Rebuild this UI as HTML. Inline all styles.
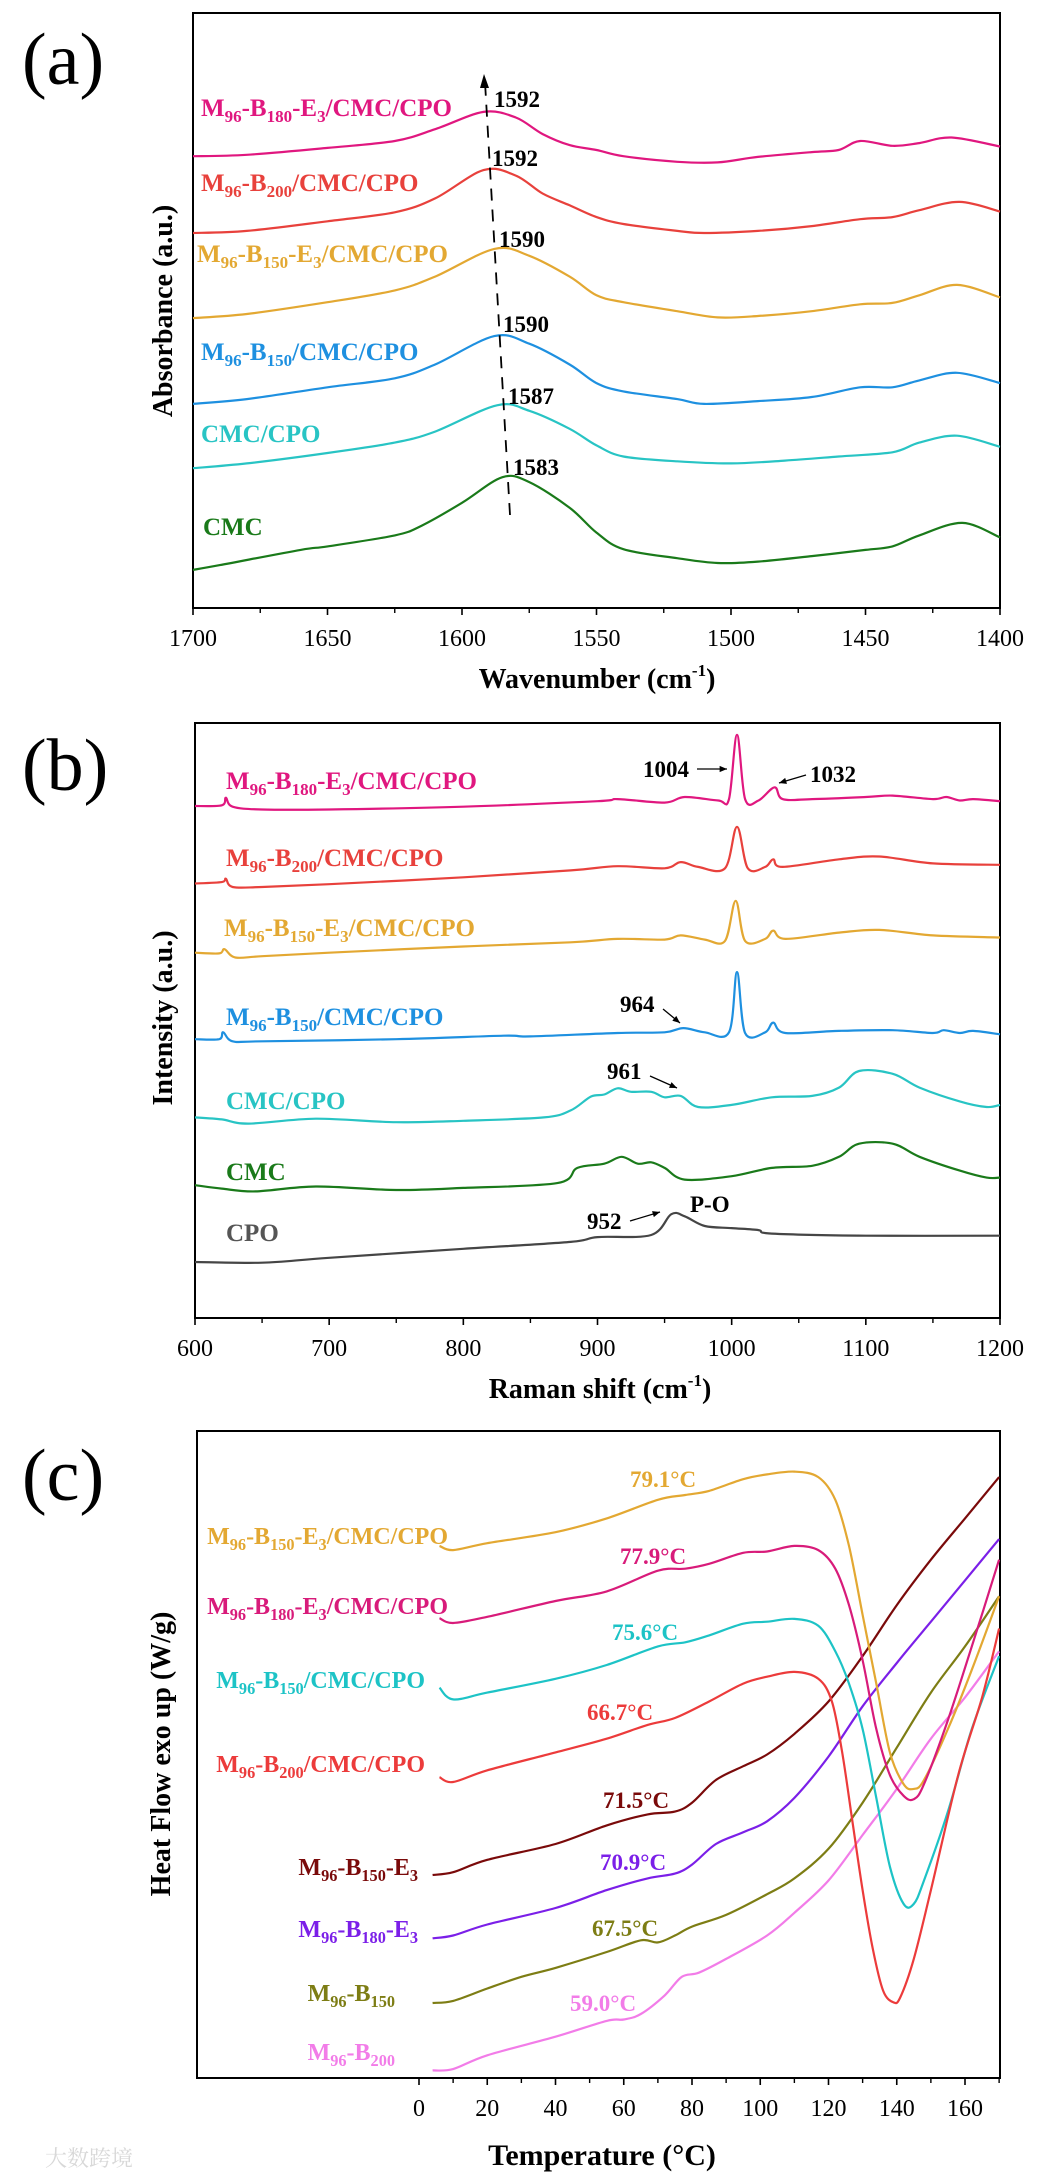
<!DOCTYPE html>
<html><head><meta charset="utf-8">
<style>
html,body{margin:0;padding:0;background:#fff;}
svg{display:block;}
text{font-family:"Liberation Serif","Noto Serif CJK SC",serif;}
</style></head>
<body>
<svg id="fig" width="1043" height="2174" viewBox="0 0 1043 2174" xmlns="http://www.w3.org/2000/svg">
<rect width="1043" height="2174" fill="#fff"/>
</svg>
<script>
// ---------- Panel (a) FTIR data ----------
const aWave = {
  mag:[1700,1680,1650,1625,1610,1592,1580,1570,1560,1550,1540,1520,1505,1490,1470,1460,1452,1440,1430,1418,1400],
  red:[1700,1680,1650,1625,1610,1592,1580,1570,1560,1550,1540,1520,1510,1490,1470,1452,1440,1430,1415,1400],
  yel:[1700,1680,1650,1625,1610,1588,1575,1560,1550,1540,1520,1505,1490,1470,1452,1440,1430,1416,1400],
  blu:[1700,1680,1650,1625,1610,1588,1575,1560,1550,1540,1520,1510,1490,1470,1452,1440,1430,1416,1400],
  cya:[1700,1680,1650,1625,1610,1587,1575,1560,1550,1540,1520,1500,1480,1460,1440,1430,1416,1400],
  grn:[1700,1690,1660,1650,1625,1615,1600,1585,1575,1560,1550,1540,1520,1505,1490,1470,1450,1440,1430,1414,1400]
};
const aAbsMag=[653,655,665,675,692,717,709,685,669,662,653,645,644,652,659,662,675,668,672,680,667];
const aAbsRed=[542,545,559,572,592,633,625,599,582,565,555,545,542,545,552,562,565,575,587,573];
const aAbsYel=[419,425,442,459,479,519,509,479,452,442,429,420,422,429,439,441,452,467,449];
const aAbsBlu=[295,302,319,332,352,393,382,352,325,313,302,295,299,305,319,319,329,340,325];
const aAbsCya=[202,209,224,239,255,293,285,259,235,219,212,209,213,219,225,239,249,233];
const aAbsGrn=[55,62,84,89,105,119,152,189,182,145,109,85,72,65,67,75,84,89,105,123,102];
const aTicks=[1700,1650,1600,1550,1500,1450,1400];
const aPeaks=["1592","1592","1590","1590","1587","1583"];

// ---------- Panel (b) Raman data ----------
const bShift = {
  mag:[600,620,623,628,650,700,800,900,915,950,965,990,998,1004,1010,1020,1032,1038,1060,1100,1120,1150,1160,1170,1180,1200],
  red:[600,620,623,628,650,700,800,880,915,950,962,975,995,1004,1012,1025,1031,1038,1080,1110,1150,1200],
  yel:[600,618,622,630,650,700,800,880,915,950,962,980,995,1003,1010,1025,1031,1040,1080,1110,1150,1200],
  blu:[600,618,621,628,650,750,830,850,915,950,964,980,998,1004,1010,1025,1031,1040,1080,1120,1150,1158,1170,1180,1200],
  cya:[600,620,640,690,750,800,860,880,895,905,915,925,940,950,962,975,1000,1030,1060,1080,1095,1120,1140,1170,1190,1200],
  grn:[600,620,645,690,750,800,870,885,905,918,930,940,950,965,1000,1030,1060,1080,1095,1120,1140,1170,1190,1200],
  gry:[600,650,700,800,880,900,940,955,965,980,1000,1020,1030,1100,1200]
};
const bIntMag=[740,741,752,739,735,735,739,747,750,745,753,748,750,843,750,748,767,750,750,753,755,750,753,748,750,747];
const bIntRed=[628,630,635,623,623,627,637,647,653,650,659,652,650,710,650,652,663,652,663,667,657,655];
const bIntYel=[528,527,533,521,523,528,537,543,548,547,553,547,545,603,545,548,560,548,557,561,553,550];
const bIntBlu=[403,403,413,400,400,403,408,407,412,413,419,413,413,500,412,413,427,412,415,416,412,416,412,415,410];
const bIntCya=[290,287,281,288,283,285,290,300,320,323,332,327,327,319,321,305,308,319,321,333,357,353,333,313,305,308];
const bIntGrn=[192,187,183,190,185,188,195,217,223,233,223,225,217,200,205,217,220,233,252,252,233,213,203,203];
const bIntGry=[81,80,87,100,110,117,120,150,147,133,130,127,122,119,119];
const bTicks=[600,700,800,900,1000,1100,1200];

// ---------- Panel (c) DSC data ----------
const cTemp = {
  yel:[6,10,20,40,55,70,78,85,95,102,110,117,122,126,130,134,138,142,145,148,155,162,170],
  mag:[6,10,20,40,55,70,78,85,95,102,110,117,122,126,130,134,138,142,145,148,155,162,170],
  cya:[6,10,20,40,55,70,78,85,95,102,110,117,122,126,130,134,138,142,145,148,155,162,170],
  red:[6,10,20,40,55,67,75,85,95,102,110,117,121,124,127,130,133,136,139,141,145,150,158,165,170],
  drk:[4,10,20,40,55,67,75,80,87,95,102,110,120,130,140,150,160,170],
  pur:[4,10,20,40,55,67,75,80,87,95,102,110,120,130,140,150,160,170],
  olv:[4,10,20,30,40,55,65,70,75,80,90,102,110,120,130,140,150,160,170],
  pnk:[4,10,20,40,55,60,65,72,77,82,90,102,110,120,130,140,150,160,170]
};
const cHeatYel=[773,767,777,793,813,840,847,853,870,877,881,873,840,773,673,573,473,427,420,433,507,593,700];
const cHeatMag=[668,661,670,693,707,737,740,747,763,765,773,767,740,687,607,507,440,410,405,427,520,627,753];
const cHeatCya=[567,550,560,580,600,627,633,643,660,663,667,657,620,573,507,407,307,253,253,287,387,507,613];
const cHeatRed=[437,430,447,473,493,513,523,547,573,583,590,580,547,473,373,273,187,127,110,117,173,273,440,553,653];
const cHeatDrk=[295,299,317,340,367,383,387,400,433,453,470,500,547,613,687,753,813,873];
const cHeatPur=[203,207,223,247,273,290,297,310,340,357,373,407,467,540,603,663,723,783];
const cHeatOlv=[109,112,130,147,160,183,200,197,207,220,237,267,290,333,400,480,560,627,700];
const cHeatPnk=[11,13,33,60,83,85,93,120,147,153,173,207,240,287,353,420,493,553,620];
const cTicks=[0,20,40,60,80,100,120,140,160];
const cTg=["79.1°C","77.9°C","75.6°C","66.7°C","71.5°C","70.9°C","67.5°C","59.0°C"];

// ---------- scales ----------
const ax=w=>193+(1700-w)/300*807, ay=v=>608-v/860*595;
const bx=r=>195+(r-600)/600*805,  by=v=>1318-v/860*595;
const cx=t=>419+t*3.4125,         cy=v=>2078-v/940*647;

const NS="http://www.w3.org/2000/svg";
const svg=document.getElementById('fig');
function el(tag,attrs,parent){const e=document.createElementNS(NS,tag);for(const k in attrs)e.setAttribute(k,attrs[k]);(parent||svg).appendChild(e);return e;}
function pathD(xs,ys){
  const p=xs.map((x,i)=>[x,ys[i]]);let d="M"+p[0][0].toFixed(1)+","+p[0][1].toFixed(1);
  for(let i=0;i<p.length-1;i++){const p0=p[i-1]||p[i],p1=p[i],p2=p[i+1],p3=p[i+2]||p2;
    const c1x=p1[0]+(p2[0]-p0[0])/6,c1y=p1[1]+(p2[1]-p0[1])/6,c2x=p2[0]-(p3[0]-p1[0])/6,c2y=p2[1]-(p3[1]-p1[1])/6;
    d+=`C${c1x.toFixed(1)},${c1y.toFixed(1)} ${c2x.toFixed(1)},${c2y.toFixed(1)} ${p2[0].toFixed(1)},${p2[1].toFixed(1)}`;}
  return d;}
function curve(xs,vs,fx,fy,color,name){
  const p=el('path',{d:pathD(xs.map(fx),vs.map(fy)),fill:'none',stroke:color,'stroke-width':2.2,'stroke-linejoin':'round'});
  
  
  return p;}
function label(str,x,y,color,size,anchor,name){
  const t=el('text',{x:x,y:y,fill:color,'font-size':size,'font-weight':'bold','text-anchor':anchor||'start'});
  
  
  const parts=str.split(/(_\d+)/);let sub=false;
  parts.forEach(s=>{if(!s)return;
    if(s[0]==='_'){const ts=el('tspan',{'font-size':size*0.68,dy:sub?0:6},t);ts.textContent=s.slice(1);sub=true;}
    else{const ts=el('tspan',{dy:sub?-6:0},t);ts.textContent=s;sub=false;}});
  return t;}
function txt(s,x,y,size,attrs,name){const t=el('text',Object.assign({x:x,y:y,'font-size':size,fill:'#000'},attrs||{}));t.textContent=s;
  
  
  return t;}
function supTitle(pre,x,y,name){
  const t=el('text',{x:x,y:y,'font-size':28,'font-weight':'bold','text-anchor':'middle',fill:'#000'});
  
  
  const a=el('tspan',{},t);a.textContent=pre;
  const b=el('tspan',{'font-size':17,dy:-12},t);b.textContent='-1';
  const c=el('tspan',{dy:12},t);c.textContent=')';
  return t;}
function frame(x0,y0,x1,y1,name){const r=el('rect',{x:x0,y:y0,width:x1-x0,height:y1-y0,fill:'none',stroke:'#000','stroke-width':2});
  
  }
function ticks(vals,fx,ybase,minorVals,name){
  vals.forEach(v=>{el('line',{x1:fx(v),x2:fx(v),y1:ybase,y2:ybase+7,stroke:'#000','stroke-width':1.6});
    txt(String(v),fx(v),ybase+38,24,{'text-anchor':'middle'},name);});
  minorVals.forEach(v=>el('line',{x1:fx(v),x2:fx(v),y1:ybase,y2:ybase+5,stroke:'#000','stroke-width':1.4}));}
function arrow(x1,y1,x2,y2,name){
  const l=el('line',{x1:x1,y1:y1,x2:x2,y2:y2,stroke:'#000','stroke-width':1.3});
  
  
  const a=Math.atan2(y2-y1,x2-x1),s=8;
  el('polygon',{points:`${x2},${y2} ${x2-s*Math.cos(a-0.4)},${y2-s*Math.sin(a-0.4)} ${x2-s*Math.cos(a+0.4)},${y2-s*Math.sin(a+0.4)}`,fill:'#000'});}

// ===== Panel a =====
txt('(a)',22,84,74,{},'panel-a-letter');
frame(193,13,1000,608,'panel-a-frame');
ticks(aTicks,ax,608,[1675,1625,1575,1525,1475,1425],'x-tick-label-a');
supTitle('Wavenumber (cm',597,688,'x-axis-title-a');
txt('Absorbance (a.u.)',0,0,28,{'font-weight':'bold','text-anchor':'middle',transform:'translate(172,311) rotate(-90)'},'y-axis-title-a');
curve(aWave.mag,aAbsMag,ax,ay,'#e0177f','curve-a-m96-b180-e3');
curve(aWave.red,aAbsRed,ax,ay,'#e8413c','curve-a-m96-b200');
curve(aWave.yel,aAbsYel,ax,ay,'#e3a832','curve-a-m96-b150-e3');
curve(aWave.blu,aAbsBlu,ax,ay,'#1e90e0','curve-a-m96-b150');
curve(aWave.cya,aAbsCya,ax,ay,'#28c4c4','curve-a-cmc-cpo');
curve(aWave.grn,aAbsGrn,ax,ay,'#1a7a1a','curve-a-cmc');
label('M_96-B_180-E_3/CMC/CPO',201,116,'#e0177f',25,'start','label-a-m96-b180-e3');
label('M_96-B_200/CMC/CPO',201,191,'#e8413c',25,'start','label-a-m96-b200');
label('M_96-B_150-E_3/CMC/CPO',197,262,'#e3a832',25,'start','label-a-m96-b150-e3');
label('M_96-B_150/CMC/CPO',201,360,'#1e90e0',25,'start','label-a-m96-b150');
label('CMC/CPO',201,442,'#28c4c4',25,'start','label-a-cmc-cpo');
label('CMC',203,535,'#1a7a1a',25,'start','label-a-cmc');
const dl=el('line',{x1:510,y1:515,x2:485,y2:82,stroke:'#000','stroke-width':1.8,'stroke-dasharray':'12,9'});


el('polygon',{points:'484,74 480,88 489,88',fill:'#000'});
const aPk=[[494,107],[492,166],[499,247],[503,332],[508,404],[513,475]];
aPeaks.forEach((s,i)=>txt(s,aPk[i][0],aPk[i][1],23,{'font-weight':'bold'},'peak-label-a'));

// ===== Panel b =====
txt('(b)',22,790,74,{},'panel-b-letter');
frame(195,723,1000,1318,'panel-b-frame');
ticks(bTicks,bx,1318,[650,750,850,950,1050,1150],'x-tick-label-b');
supTitle('Raman shift (cm',600,1398,'x-axis-title-b');
txt('Intensity (a.u.)',0,0,28,{'font-weight':'bold','text-anchor':'middle',transform:'translate(172,1018) rotate(-90)'},'y-axis-title-b');
curve(bShift.mag,bIntMag,bx,by,'#e0177f','curve-b-m96-b180-e3');
curve(bShift.red,bIntRed,bx,by,'#e8413c','curve-b-m96-b200');
curve(bShift.yel,bIntYel,bx,by,'#e3a832','curve-b-m96-b150-e3');
curve(bShift.blu,bIntBlu,bx,by,'#1e90e0','curve-b-m96-b150');
curve(bShift.cya,bIntCya,bx,by,'#28c4c4','curve-b-cmc-cpo');
curve(bShift.grn,bIntGrn,bx,by,'#1a7a1a','curve-b-cmc');
curve(bShift.gry,bIntGry,bx,by,'#454545','curve-b-cpo');
label('M_96-B_180-E_3/CMC/CPO',226,789,'#e0177f',25,'start','label-b-m96-b180-e3');
label('M_96-B_200/CMC/CPO',226,866,'#e8413c',25,'start','label-b-m96-b200');
label('M_96-B_150-E_3/CMC/CPO',224,936,'#e3a832',25,'start','label-b-m96-b150-e3');
label('M_96-B_150/CMC/CPO',226,1025,'#1e90e0',25,'start','label-b-m96-b150');
label('CMC/CPO',226,1109,'#28c4c4',25,'start','label-b-cmc-cpo');
label('CMC',226,1180,'#1a7a1a',25,'start','label-b-cmc');
label('CPO',226,1241,'#555',25,'start','label-b-cpo');
txt('1004',643,777,23,{'font-weight':'bold'},'peak-label-1004'); arrow(697,769,727,769,'arrow-1004');
txt('1032',810,782,23,{'font-weight':'bold'},'peak-label-1032'); arrow(806,775,779,783,'arrow-1032');
txt('964',620,1012,23,{'font-weight':'bold'},'peak-label-964'); arrow(663,1009,680,1023,'arrow-964');
txt('961',607,1079,23,{'font-weight':'bold'},'peak-label-961'); arrow(650,1076,677,1088,'arrow-961');
txt('952',587,1229,23,{'font-weight':'bold'},'peak-label-952'); arrow(630,1221,660,1212,'arrow-952');
txt('P-O',690,1212,23,{'font-weight':'bold'},'peak-label-p-o');

// ===== Panel c =====
txt('(c)',22,1500,74,{},'panel-c-letter');
frame(197,1431,1000,2078,'panel-c-frame');
ticks(cTicks,cx,2078,[10,30,50,70,90,110,130,150,170],'x-tick-label-c');
txt('Temperature (°C)',602,2165,30,{'font-weight':'bold','text-anchor':'middle'},'x-axis-title-c');
txt('Heat Flow exo up (W/g)',0,0,28,{'font-weight':'bold','text-anchor':'middle',transform:'translate(170,1754) rotate(-90)'},'y-axis-title-c');
const cCol=['#e3a832','#d81b7a','#1dc3c6','#ec3b3b','#7a0a0a','#7b1fe8','#7d7d14','#f27ce8'];
curve(cTemp.drk,cHeatDrk,cx,cy,cCol[4],'curve-c-m96-b150-e3');
curve(cTemp.pur,cHeatPur,cx,cy,cCol[5],'curve-c-m96-b180-e3');
curve(cTemp.olv,cHeatOlv,cx,cy,cCol[6],'curve-c-m96-b150');
curve(cTemp.pnk,cHeatPnk,cx,cy,cCol[7],'curve-c-m96-b200');
curve(cTemp.yel,cHeatYel,cx,cy,cCol[0],'curve-c-m96-b150-e3-cmc-cpo');
curve(cTemp.mag,cHeatMag,cx,cy,cCol[1],'curve-c-m96-b180-e3-cmc-cpo');
curve(cTemp.cya,cHeatCya,cx,cy,cCol[2],'curve-c-m96-b150-cmc-cpo');
curve(cTemp.red,cHeatRed,cx,cy,cCol[3],'curve-c-m96-b200-cmc-cpo');
label('M_96-B_150-E_3/CMC/CPO',448,1544,cCol[0],24,'end','label-c-m96-b150-e3-cmc-cpo');
label('M_96-B_180-E_3/CMC/CPO',448,1614,cCol[1],24,'end','label-c-m96-b180-e3-cmc-cpo');
label('M_96-B_150/CMC/CPO',425,1688,cCol[2],24,'end','label-c-m96-b150-cmc-cpo');
label('M_96-B_200/CMC/CPO',425,1772,cCol[3],24,'end','label-c-m96-b200-cmc-cpo');
label('M_96-B_150-E_3',418,1875,cCol[4],24,'end','label-c-m96-b150-e3');
label('M_96-B_180-E_3',418,1937,cCol[5],24,'end','label-c-m96-b180-e3');
label('M_96-B_150',395,2001,cCol[6],24,'end','label-c-m96-b150');
label('M_96-B_200',395,2060,cCol[7],24,'end','label-c-m96-b200');
const tgPos=[[630,1487],[620,1564],[612,1640],[587,1720],[603,1808],[600,1870],[592,1936],[570,2011]];
cTg.forEach((s,i)=>txt(s,tgPos[i][0],tgPos[i][1],23,{'font-weight':'bold',fill:cCol[i]},'tg-label-c'));
txt('大数跨境',45,2166,22,{fill:'#d8d8d8','font-family':'"Noto Sans CJK SC",sans-serif'},'watermark');
</script>
</body></html>
